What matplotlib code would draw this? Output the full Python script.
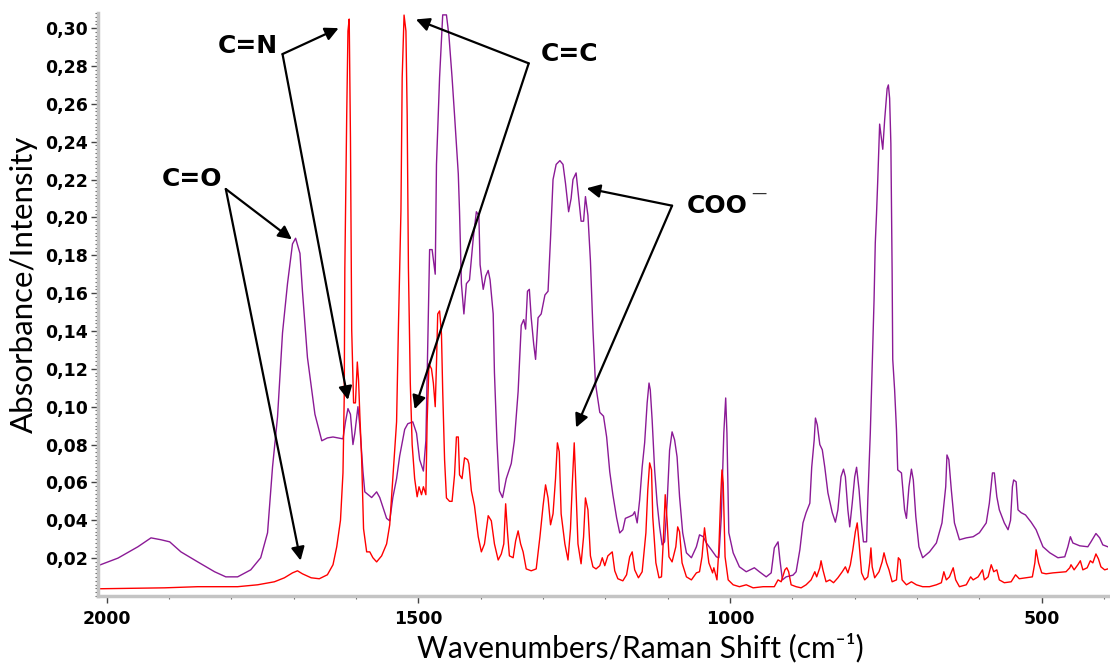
import matplotlib
matplotlib.use("Agg")
import matplotlib.pyplot as plt
from matplotlib.ticker import MultipleLocator, FuncFormatter

# IR absorbance (purple)
ir_wn = [2014, 1982, 1950, 1929, 1913, 1899, 1881, 1854, 1827, 1809, 1790, 1769, 1753, 1742,
         1734, 1726, 1718, 1710, 1702, 1697, 1690, 1686, 1678, 1666, 1655, 1646, 1637, 1621,
         1617, 1613, 1609, 1605, 1602, 1597, 1594, 1589, 1586, 1575, 1567, 1562, 1551, 1546,
         1541, 1535, 1530, 1522, 1517, 1509, 1503, 1498, 1492, 1488, 1485, 1482, 1478, 1475,
         1473, 1471, 1466, 1461, 1455, 1451, 1446, 1442, 1436, 1434, 1431, 1427, 1423, 1418,
         1412, 1407, 1403, 1401, 1396, 1392, 1388, 1385, 1380, 1378, 1374, 1370, 1365, 1359,
         1351, 1346, 1340, 1335, 1331, 1328, 1325, 1322, 1319, 1315, 1312, 1308, 1303, 1297,
         1292, 1288, 1284, 1279, 1273, 1268, 1264, 1259, 1255, 1252, 1247, 1243, 1239, 1235,
         1232, 1228, 1224, 1220, 1216, 1209, 1203, 1198, 1193, 1188, 1182, 1177, 1172, 1168,
         1161, 1156, 1153, 1149, 1145, 1141, 1137, 1133, 1130, 1128, 1125, 1121, 1117, 1113,
         1109, 1105, 1101, 1097, 1093, 1089, 1085, 1081, 1076, 1070, 1062, 1054, 1049, 1043,
         1038, 1030, 1022, 1018, 1014, 1010, 1007, 1005, 1002, 995, 985, 974, 961, 953, 942,
         934, 929, 923, 920, 916, 910, 899, 894, 888, 883, 878, 872, 869, 865, 863, 860, 856,
         852, 848, 843, 836, 831, 827, 822, 818, 815, 811, 808, 804, 800, 797, 793, 789, 786,
         781, 779, 775, 772, 769, 767, 765, 763, 760, 755, 752, 748, 746, 744, 742, 740, 739,
         736, 733, 731, 725, 720, 717, 713, 709, 706, 702, 697, 691, 680, 669, 660, 654, 652,
         649, 645, 640, 632, 621, 610, 600, 589, 584, 579, 576, 572, 568, 560, 554, 550, 547,
         545, 541, 538, 533, 526, 517, 509, 498, 487, 474, 463, 458, 454, 450, 439, 426, 421,
         413, 407, 402, 394]
ir_abs = [0.016, 0.020, 0.026, 0.0307, 0.0297, 0.0286, 0.0233, 0.018, 0.0128, 0.0101, 0.0101,
          0.0138, 0.0202, 0.0334, 0.0682, 0.0946, 0.139, 0.165, 0.186, 0.189, 0.181, 0.161,
          0.126, 0.096, 0.082, 0.0835, 0.084, 0.083, 0.092, 0.099, 0.096, 0.080, 0.086, 0.100,
          0.090, 0.066, 0.055, 0.052, 0.055, 0.052, 0.041, 0.0397, 0.052, 0.062, 0.074, 0.088,
          0.091, 0.092, 0.086, 0.072, 0.066, 0.082, 0.133, 0.183, 0.183, 0.175, 0.170, 0.228,
          0.274, 0.307, 0.307, 0.296, 0.274, 0.254, 0.223, 0.203, 0.165, 0.149, 0.165, 0.167,
          0.189, 0.203, 0.201, 0.175, 0.162, 0.169, 0.172, 0.167, 0.149, 0.118, 0.082, 0.0555,
          0.052, 0.062, 0.070, 0.082, 0.108, 0.143, 0.146, 0.141, 0.161, 0.162, 0.147, 0.133,
          0.125, 0.147, 0.149, 0.159, 0.161, 0.189, 0.220, 0.228, 0.230, 0.228, 0.218, 0.203,
          0.210, 0.220, 0.2235, 0.211, 0.198, 0.198, 0.211, 0.201, 0.177, 0.141, 0.1125, 0.097,
          0.095, 0.084, 0.0656, 0.0535, 0.0413, 0.0333, 0.035, 0.041, 0.042, 0.0428, 0.0445,
          0.0386, 0.0508, 0.068, 0.081, 0.102, 0.1125, 0.109, 0.093, 0.0666, 0.049, 0.0365,
          0.027, 0.0286, 0.049, 0.077, 0.0867, 0.0825, 0.0735, 0.0524, 0.0334, 0.0228, 0.0202,
          0.026, 0.0323, 0.0313, 0.028, 0.0244, 0.0207, 0.0202, 0.042, 0.0862, 0.1046, 0.086,
          0.0334, 0.0228, 0.0154, 0.0128, 0.0149, 0.0128, 0.0101, 0.0122, 0.0254, 0.0286,
          0.0191, 0.0085, 0.0101, 0.011, 0.0128, 0.0244, 0.0386, 0.044, 0.049, 0.068, 0.0825,
          0.094, 0.0904, 0.080, 0.0772, 0.068, 0.0545, 0.044, 0.039, 0.0455, 0.063, 0.067,
          0.063, 0.0455, 0.0365, 0.049, 0.063, 0.068, 0.056, 0.0386, 0.0286, 0.0286, 0.0508,
          0.086, 0.121, 0.156, 0.1865, 0.202, 0.220, 0.2493, 0.236, 0.2514, 0.268, 0.270, 0.263,
          0.239, 0.172, 0.125, 0.109, 0.0878, 0.0666, 0.065, 0.0455, 0.041, 0.0577, 0.067,
          0.0613, 0.042, 0.026, 0.0202, 0.0233, 0.028, 0.0386, 0.0577, 0.0745, 0.072, 0.056,
          0.0386, 0.0297, 0.0307, 0.0313, 0.0334, 0.0386, 0.049, 0.065, 0.065, 0.0524, 0.0455,
          0.0386, 0.035, 0.040, 0.0577, 0.0613, 0.0603, 0.0455, 0.044, 0.0428, 0.039, 0.035,
          0.026, 0.0228, 0.0202, 0.0207, 0.026, 0.0313, 0.028, 0.0265, 0.026, 0.0286, 0.033,
          0.0307, 0.027, 0.026]

# Raman intensity (red)
ram_wn = [2014, 1907, 1854, 1790, 1758, 1731, 1715, 1702, 1694, 1686, 1672, 1659, 1646, 1637,
          1631, 1625, 1621, 1619, 1618, 1615, 1613, 1611, 1609, 1607, 1604, 1601, 1598, 1596,
          1594, 1591, 1588, 1583, 1578, 1573, 1567, 1559, 1551, 1546, 1541, 1535, 1532, 1528,
          1526, 1523, 1520, 1518, 1516, 1513, 1510, 1506, 1502, 1499, 1495, 1492, 1488, 1486,
          1483, 1479, 1476, 1473, 1471, 1469, 1466, 1463, 1461, 1458, 1455, 1450, 1446, 1442,
          1439, 1436, 1434, 1430, 1426, 1421, 1419, 1415, 1410, 1404, 1399, 1394, 1388, 1383,
          1378, 1372, 1367, 1363, 1360, 1357, 1354, 1348, 1344, 1340, 1336, 1332, 1327, 1319,
          1311, 1305, 1300, 1296, 1292, 1288, 1284, 1280, 1277, 1274, 1271, 1265, 1260, 1256,
          1253, 1250, 1248, 1244, 1239, 1235, 1232, 1228, 1224, 1220, 1215, 1209, 1205, 1201,
          1196, 1189, 1185, 1180, 1172, 1166, 1161, 1157, 1153, 1147, 1141, 1135, 1132, 1129,
          1126, 1124, 1119, 1114, 1110, 1107, 1104, 1101, 1098, 1093, 1087, 1084, 1081, 1077,
          1070, 1062, 1054, 1049, 1045, 1041, 1038, 1034, 1028, 1026, 1021, 1018, 1015, 1013,
          1011, 1008, 1003, 995, 985, 974, 963, 947, 929, 923, 918, 912, 909, 906, 902, 894,
          886, 878, 870, 864, 861, 856, 854, 851, 846, 840, 834, 827, 820, 815, 811, 807, 803,
          799, 796, 793, 789, 784, 779, 776, 774, 772, 768, 761, 756, 753, 749, 745, 740, 733,
          730, 727, 724, 717, 709, 701, 691, 680, 669, 661, 657, 653, 648, 642, 638, 632, 621,
          614, 610, 602, 595, 592, 586, 581, 577, 572, 568, 560, 549, 542, 536, 525, 515, 511,
          509, 505, 500, 493, 482, 461, 455, 453, 448, 442, 438, 434, 427, 422, 418, 413, 409,
          405, 399, 394]
ram_int = [0.0038, 0.0043, 0.0049, 0.0049, 0.0059, 0.0075, 0.0096, 0.0122, 0.0133, 0.0117,
           0.0096, 0.0091, 0.0112, 0.0165, 0.026, 0.040, 0.065, 0.105, 0.1733, 0.254, 0.2985,
           0.3048, 0.242, 0.1406, 0.102, 0.102, 0.1236, 0.114, 0.096, 0.072, 0.0355, 0.0233,
           0.0233, 0.0202, 0.018, 0.0212, 0.0275, 0.0376, 0.062, 0.092, 0.1427, 0.2034, 0.274,
           0.3069, 0.2985, 0.254, 0.1733, 0.1125, 0.080, 0.062, 0.0524, 0.0577, 0.0535, 0.0577,
           0.0535, 0.092, 0.1226, 0.120, 0.1125, 0.100, 0.1226, 0.149, 0.1506, 0.1385, 0.1083,
           0.072, 0.0518, 0.050, 0.050, 0.064, 0.084, 0.084, 0.064, 0.062, 0.073, 0.072, 0.0698,
           0.0556, 0.0476, 0.0313, 0.0233, 0.0275, 0.0424, 0.0397, 0.0275, 0.019, 0.0222,
           0.0275, 0.0487, 0.0334, 0.0212, 0.0202, 0.0291, 0.0344, 0.0275, 0.0233, 0.0143,
           0.0133, 0.0143, 0.0313, 0.0476, 0.0587, 0.0518, 0.0376, 0.0434, 0.062, 0.0809,
           0.0761, 0.0434, 0.0275, 0.019, 0.0355, 0.0598, 0.0809, 0.064, 0.0275, 0.017, 0.0313,
           0.0518, 0.0455, 0.0212, 0.0154, 0.0143, 0.016, 0.0202, 0.016, 0.0212, 0.0233,
           0.0133, 0.0091, 0.008, 0.0112, 0.0207, 0.0233, 0.0138, 0.0096, 0.0128, 0.0334,
           0.056, 0.0703, 0.0666, 0.0418, 0.0175, 0.0096, 0.0101, 0.0297, 0.0535, 0.040,
           0.0207, 0.018, 0.026, 0.0365, 0.0339, 0.0175, 0.0101, 0.0085, 0.0122, 0.0128,
           0.0207, 0.036, 0.028, 0.0175, 0.0122, 0.0149, 0.0085, 0.0244, 0.0524, 0.0666,
           0.0598, 0.0207, 0.0085, 0.0059, 0.0049, 0.0059, 0.0043, 0.0049, 0.0049, 0.0085,
           0.0075, 0.0138, 0.0149, 0.0128, 0.0059, 0.0049, 0.0043, 0.0059, 0.0085, 0.0128,
           0.0101, 0.0149, 0.0186, 0.0138, 0.0075, 0.0085, 0.007, 0.0096, 0.0128, 0.0154,
           0.0122, 0.0165, 0.0244, 0.0339, 0.0386, 0.028, 0.0122, 0.0085, 0.0101, 0.0175,
           0.0254, 0.0154, 0.0096, 0.0128, 0.018, 0.0228, 0.0175, 0.0138, 0.0075, 0.0085,
           0.0202, 0.019, 0.0085, 0.0059, 0.0075, 0.0059, 0.0049, 0.0049, 0.0059, 0.007,
           0.0128, 0.0085, 0.0101, 0.0149, 0.0085, 0.0049, 0.0059, 0.0101, 0.0085, 0.0101,
           0.0138, 0.0085, 0.0101, 0.0165, 0.0128, 0.0138, 0.0085, 0.007, 0.0075, 0.0112,
           0.0091, 0.0096, 0.0101, 0.0175, 0.0244, 0.0175, 0.0122, 0.0117, 0.0122, 0.0128,
           0.0149, 0.0165, 0.0138, 0.0165, 0.0186, 0.0138, 0.0149, 0.0186, 0.0175, 0.0222,
           0.0196, 0.0154, 0.0138, 0.0143]

y_ticks = [0.02, 0.04, 0.06, 0.08, 0.10, 0.12, 0.14, 0.16, 0.18, 0.20, 0.22, 0.24, 0.26, 0.28, 0.30]
x_ticks = [2000, 1500, 1000, 500]

# band labels: (text, text position, arrow heads, arrow start)
bands = [
    ("C=N", (1774, 0.2905), [(1628, 0.300), (1613, 0.1036)], (1718, 0.2863)),
    ("C=O", (1864, 0.2203), [(1703, 0.1884), (1689, 0.0187)], (1809, 0.2150)),
    ("C=C", (1258, 0.2863), [(1504, 0.3046), (1506, 0.0987)], (1323, 0.2814)),
    ("COO", (1020, 0.2060), [(1230, 0.2154), (1247, 0.0890)], (1093, 0.2062)),
]

fig = plt.figure(figsize=(11.1, 6.63), dpi=100)
ax = fig.add_axes([0.0883, 0.1011, 0.9097, 0.8793])

ax.plot(ir_wn, ir_abs, color="#8b1a96", lw=1.0)
ax.plot(ram_wn, ram_int, color="#ff0000", lw=1.0)

ax.set_xlim(2014, 394)
ax.set_ylim(0, 0.308)

ax.set_yticks(y_ticks)
ax.yaxis.set_minor_locator(MultipleLocator(0.002))
ax.yaxis.set_major_formatter(FuncFormatter(lambda v, p: ("%.2f" % v).replace(".", ",")))
ax.set_xticks(x_ticks)
ax.xaxis.set_minor_locator(MultipleLocator(100))

for lab in ax.get_xticklabels() + ax.get_yticklabels():
    lab.set_fontfamily("DejaVu Sans")
    lab.set_fontweight("bold")
    lab.set_fontsize(12.5)

ax.tick_params(which="major", length=5, width=1, color="#444444", pad=2)
ax.tick_params(which="minor", length=2.5, width=0.8, color="#666666")
ax.tick_params(axis="x", pad=5)

for s in ["top", "right"]:
    ax.spines[s].set_visible(False)
for s in ["left", "bottom"]:
    ax.spines[s].set_color("#c4c4c4")
    ax.spines[s].set_linewidth(2.5)

ax.set_xlabel("Wavenumbers/Raman Shift (cm\u207b\u00b9)", family=["Lato", "DejaVu Sans"], fontsize=21.5)
ax.set_ylabel("Absorbance/Intensity", family=["Lato", "DejaVu Sans"], fontsize=22.5)
ax.xaxis.set_label_coords(0.5376, -0.089)
ax.xaxis.label.set_verticalalignment("center")
ax.yaxis.set_label_coords(-0.0733, 0.535)
ax.yaxis.label.set_verticalalignment("center")

for name, pos, heads, start in bands:
    ax.text(pos[0], pos[1], name, fontsize=18, fontweight="bold", family="DejaVu Sans",
            ha="center", va="center")
    for h in heads:
        ax.annotate("", xy=h, xytext=start,
                    arrowprops=dict(arrowstyle="-|>", color="black", lw=1.6,
                                    mutation_scale=20, shrinkA=0, shrinkB=0))

# superscript minus of the carboxylate label
ax.text(953, 0.2129, "\u2014", fontsize=11, color="#333333", ha="center", va="center")

fig.savefig("out.png", dpi=100)
